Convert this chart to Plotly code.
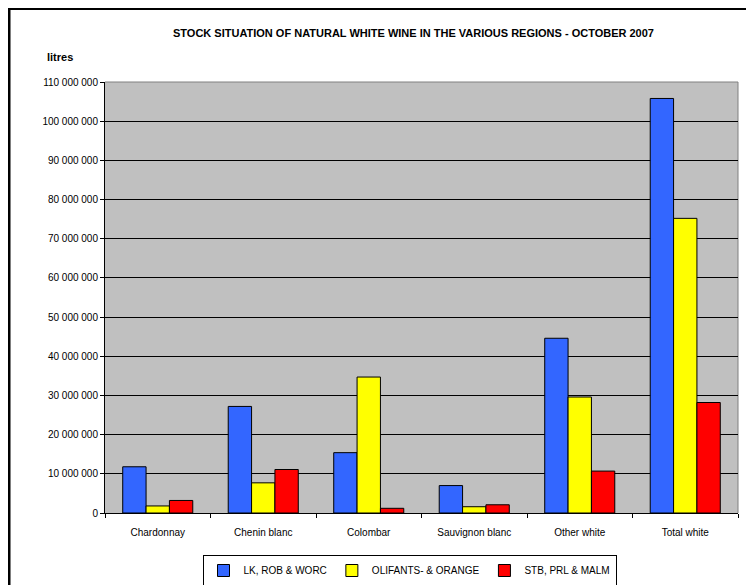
import plotly.graph_objects as go

categories = ["Chardonnay", "Chenin blanc", "Colombar", "Sauvignon blanc", "Other white", "Total white"]
series_names = ["LK, ROB & WORC", "OLIFANTS- & ORANGE", "STB, PRL & MALM"]
lk_rob_worc = [11_800_000, 27_200_000, 15_400_000, 7_000_000, 44_600_000, 105_800_000]
olifants_orange = [1_800_000, 7_700_000, 34_700_000, 1_600_000, 29_600_000, 75_200_000]
stb_prl_malm = [3_200_000, 11_100_000, 1_200_000, 2_100_000, 10_700_000, 28_200_000]
colors = ["#3366FF", "#FFFF00", "#FF0000"]

FONT = "Liberation Sans, Arial, sans-serif"

fig = go.Figure()
for name, vals, col in zip(series_names, [lk_rob_worc, olifants_orange, stb_prl_malm], colors):
    fig.add_trace(go.Bar(
        x=categories, y=vals, name=name,
        marker=dict(color=col, line=dict(color="#000000", width=1)),
    ))

# page body has an 8px margin; work in screenshot coordinates and subtract it
OFF = 8
W, H = 754 - OFF, 585 - OFF
L = 105 - OFF
T = 82 - OFF
R = W - (738 - OFF)
B = H - (513 - OFF)
pw, ph = W - L - R, H - T - B

def px(x):
    return (x - OFF - L) / pw

def py(y):
    return (H - B - (y - OFF)) / ph

fig.update_layout(
    width=W, height=H,
    margin=dict(l=L, r=R, t=T, b=B, pad=0, autoexpand=False),
    paper_bgcolor="#FFFFFF",
    plot_bgcolor="#C0C0C0",
    barmode="group",
    bargap=0.336,
    bargroupgap=0,
    separators=". ",
    font=dict(family=FONT, size=10, color="#000000"),
    showlegend=True,
    legend=dict(
        orientation="h",
        xref="container", yref="container",
        x=(409.5 - OFF) / W, xanchor="center",
        y=1 - (570.5 - OFF) / H, yanchor="middle",
        bgcolor="#FFFFFF",
        bordercolor="#000000",
        borderwidth=1,
        font=dict(family=FONT, size=10),
        itemwidth=30,
        traceorder="normal",
    ),
    xaxis=dict(
        automargin=False,
        showgrid=False,
        showline=True, linecolor="#000000", linewidth=1,
        ticks="outside", ticklen=4, tickcolor="#000000",
        tickson="boundaries",
        tickfont=dict(family=FONT, size=10),
        ticklabelstandoff=10,
    ),
    yaxis=dict(
        automargin=False,
        range=[0, 110_000_000],
        dtick=10_000_000,
        tick0=0,
        tickformat=",.0f",
        showgrid=True, gridcolor="#000000", gridwidth=1,
        showline=True, linecolor="#000000", linewidth=1,
        ticks="outside", ticklen=4, tickcolor="#000000",
        tickfont=dict(family=FONT, size=10),
        zeroline=False,
    ),
    annotations=[
        dict(text="<b>STOCK SITUATION OF NATURAL WHITE WINE IN THE VARIOUS REGIONS - OCTOBER 2007</b>",
             xref="paper", yref="paper", x=px(413), y=py(33),
             xanchor="center", yanchor="middle", showarrow=False,
             font=dict(family=FONT, size=11)),
        dict(text="<b>litres</b>",
             xref="paper", yref="paper", x=px(60), y=py(57),
             xanchor="center", yanchor="middle", showarrow=False,
             font=dict(family=FONT, size=11)),
    ],
    shapes=[
        # outer chart frame
        dict(type="rect", xref="paper", yref="paper",
             x0=px(9), x1=px(748), y0=py(600), y1=py(8.5),
             line=dict(color="#000000", width=3), fillcolor="rgba(0,0,0,0)", layer="above"),
        # plot area border (top/right)
        dict(type="line", xref="paper", yref="paper", x0=0, x1=1, y0=1, y1=1,
             line=dict(color="#808080", width=1), layer="below"),
        dict(type="line", xref="paper", yref="paper", x0=1, x1=1, y0=0, y1=1,
             line=dict(color="#808080", width=1), layer="below"),
    ],
)

fig.write_html("out.html")
